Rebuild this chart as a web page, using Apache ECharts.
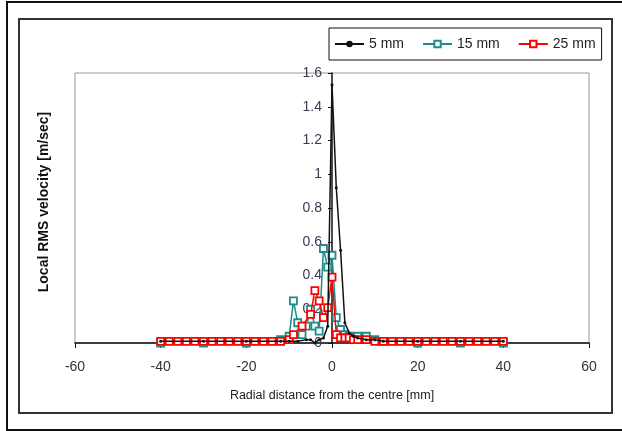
<!DOCTYPE html>
<html>
<head>
<meta charset="utf-8">
<script src="https://cdn.jsdelivr.net/npm/echarts@6/dist/echarts.min.js"></script>
<style>
  html, body { margin: 0; padding: 0; background: #fff; }
  #chart { width: 622px; height: 431px; }
</style>
</head>
<body>
<div id="chart"></div>
<script>
// radial position [mm] and local RMS velocity [m/s]
var x5mm = [-40, -30, -20, -12, -10, -8, -6, -5, -4, -3, -2, -1, 0, 1, 2, 3, 4, 5, 6, 8, 10, 12, 20, 30, 40];
var v5mm = [0.01, 0.01, 0.01, 0.01, 0.01, 0.01, 0.02, 0.02, 0.0, 0.02, 0.03, 0.1, 1.53, 0.92, 0.55, 0.12, 0.06, 0.04, 0.03, 0.02, 0.02, 0.01, 0.01, 0.01, 0.01];

var x15mm = [-40, -30, -20, -12, -10, -9, -8, -7, -6, -5, -4, -3, -2, -1, 0, 1, 2, 3, 4, 6, 8, 10, 12, 20, 30, 40];
var v15mm = [0.0, 0.0, 0.0, 0.02, 0.04, 0.25, 0.12, 0.05, 0.1, 0.2, 0.1, 0.07, 0.56, 0.45, 0.52, 0.15, 0.08, 0.05, 0.04, 0.04, 0.04, 0.02, 0.01, 0.0, 0.0, 0.0];

var x25mm = [-40, -38, -36, -34, -32, -30, -28, -26, -24, -22, -20, -18, -16, -14, -12, -10, -9, -7, -5, -4, -3, -2, -1, 0, 1, 2, 3, 4, 5, 6, 8, 10, 12, 14, 16, 18, 20, 22, 24, 26, 28, 30, 32, 34, 36, 38, 40];
var v25mm = [0.01, 0.01, 0.01, 0.01, 0.01, 0.01, 0.01, 0.01, 0.01, 0.01, 0.01, 0.01, 0.01, 0.01, 0.01, 0.02, 0.05, 0.1, 0.17, 0.31, 0.25, 0.15, 0.21, 0.39, 0.05, 0.03, 0.03, 0.03, 0.02, 0.02, 0.02, 0.01, 0.01, 0.01, 0.01, 0.01, 0.01, 0.01, 0.01, 0.01, 0.01, 0.01, 0.01, 0.01, 0.01, 0.01, 0.01];

var seriesNames = ['5 mm', '15 mm', '25 mm'];
var xTicks = { min: -60, max: 60, interval: 20 };
var yTicks = { min: 0, max: 1.6, interval: 0.2 };

function pairs(xs, ys) {
  return xs.map(function (x, i) { return [x, ys[i]]; });
}

var font = 'Liberation Sans, Arial, sans-serif';
var gridLeft = 75, gridRight = 33;
var plotWidth = 622 - gridLeft - gridRight;
var chart = echarts.init(document.getElementById('chart'));

chart.setOption({
  animation: false,
  textStyle: { fontFamily: font },
  graphic: [
    { type: 'rect', shape: { x: 7, y: 2, width: 640, height: 428 }, style: { fill: 'none', stroke: '#111', lineWidth: 2 }, silent: true },
    { type: 'rect', shape: { x: 19, y: 19, width: 593, height: 394 }, style: { fill: 'none', stroke: '#333', lineWidth: 2 }, silent: true },
    {
      type: 'text', x: 44, y: 202, rotation: Math.PI / 2,
      style: { text: 'Local RMS velocity [m/sec]', font: 'bold 14px ' + font, fill: '#111', align: 'center', verticalAlign: 'middle' },
      silent: true
    }
  ],
  legend: {
    data: seriesNames,
    left: 329, top: 28, width: 273, height: 35,
    padding: [9, 6, 9, 5],
    borderColor: '#111', borderWidth: 1,
    itemWidth: 29, itemHeight: 8, itemGap: 18,
    textStyle: { fontSize: 14, color: '#222', fontFamily: font }
  },
  grid: { left: gridLeft, right: gridRight, top: 73, bottom: 88, show: true, borderColor: '#999', borderWidth: 1 },
  xAxis: {
    type: 'value', min: xTicks.min, max: xTicks.max, interval: xTicks.interval,
    name: 'Radial distance from the centre [mm]', nameLocation: 'middle', nameGap: 46,
    nameTextStyle: { fontSize: 12.5, color: '#222' },
    axisLine: { lineStyle: { color: '#111', width: 1.5 } },
    axisTick: { length: 5, lineStyle: { color: '#111' } },
    axisLabel: { fontSize: 14, color: '#333', margin: 17 },
    splitLine: { show: false }
  },
  yAxis: {
    type: 'value', min: yTicks.min, max: yTicks.max, interval: yTicks.interval,
    offset: -plotWidth / 2,
    axisLine: { show: true, onZero: false, lineStyle: { color: '#111', width: 1.5 } },
    axisTick: { show: true, length: 4, lineStyle: { color: '#111' } },
    axisLabel: { fontSize: 14, color: '#3a3a55', margin: 10, formatter: function (v) { return String(Math.round(v * 10) / 10); } },
    splitLine: { show: false }
  },
  series: [
    {
      name: seriesNames[2], type: 'line', data: pairs(x25mm, v25mm),
      symbol: 'rect', symbolSize: 7, z: 3,
      lineStyle: { color: '#ff0000', width: 1.5 },
      itemStyle: { color: '#fff', borderColor: '#ff0000', borderWidth: 1.8 }
    },
    {
      name: seriesNames[1], type: 'line', data: pairs(x15mm, v15mm),
      symbol: 'rect', symbolSize: 7, z: 2,
      lineStyle: { color: '#1e8c8a', width: 1.5 },
      itemStyle: { color: '#fff', borderColor: '#1e8c8a', borderWidth: 1.8 }
    },
    {
      name: seriesNames[0], type: 'line', data: pairs(x5mm, v5mm),
      symbol: 'circle', symbolSize: 3, z: 4,
      lineStyle: { color: '#111', width: 1.5 },
      itemStyle: { color: '#111' }
    }
  ]
});
</script>
</body>
</html>
